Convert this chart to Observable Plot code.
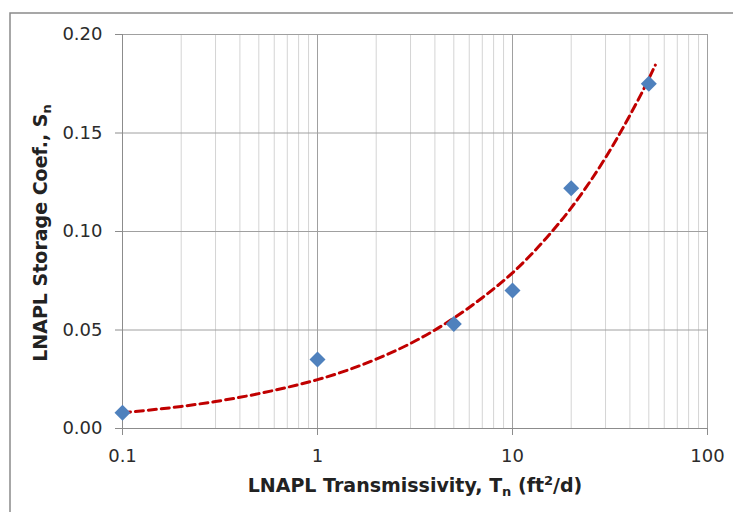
<!DOCTYPE html>
<html>
<head>
<meta charset="utf-8">
<script src="https://cdn.jsdelivr.net/npm/d3@7"></script>
<script src="https://cdn.jsdelivr.net/npm/@observablehq/plot@0.6"></script>
<style>
  html, body { margin: 0; padding: 0; background: #fff; }
  #chart { width: 733px; height: 512px; overflow: hidden; }
</style>
</head>
<body>
<div id="chart"></div>
<script>
// Measured data points (LNAPL transmissivity, storage coefficient)
const transmissivity = [0.1, 1, 5, 10, 20, 50];
const storageCoef = [0.008, 0.035, 0.053, 0.070, 0.122, 0.175];

// Dashed trend line
const trendT = [0.1, 0.2, 0.3, 0.5, 0.7, 1, 2, 3, 5, 7, 10, 15, 20, 30, 40, 50, 54];
const trendS = [0.0080, 0.0112, 0.0137, 0.0177, 0.0209, 0.0248, 0.0352, 0.0432, 0.0560, 0.0664, 0.0790, 0.0970, 0.1120, 0.1375, 0.1590, 0.1775, 0.1845];

// Axis ticks
const xTicks = [0.1, 1, 10, 100];
const xTickLabels = ["0.1", "1", "10", "100"];
const yTicks = [0, 0.05, 0.10, 0.15, 0.20];
const yTickLabels = ["0.00", "0.05", "0.10", "0.15", "0.20"];
const minorMultipliers = [2, 3, 4, 5, 6, 7, 8, 9];
const decades = [0.1, 1, 10];

const xMinor = decades.flatMap(d => minorMultipliers.map(m => +(d * m).toPrecision(3)));
const points = transmissivity.map((t, i) => ({t, s: storageCoef[i]}));
const trend = trendT.map((t, i) => ({t, s: trendS[i]}));

const chart = Plot.plot({
  width: 733,
  height: 512,
  marginLeft: 122,
  marginRight: 26,
  marginTop: 34,
  marginBottom: 84,
  style: {fontFamily: "'DejaVu Sans', Verdana, sans-serif", fontSize: "18px", background: "#fff"},
  x: {type: "log", domain: [0.1, 100]},
  y: {domain: [0, 0.2]},
  marks: [
    Plot.ruleX(xMinor, {stroke: "#d4d4d4", strokeWidth: 1}),
    Plot.ruleX([1, 10, 100], {stroke: "#a0a0a0", strokeWidth: 1}),
    Plot.ruleY(yTicks.slice(1), {stroke: "#a0a0a0", strokeWidth: 1}),
    Plot.ruleX([0.1], {stroke: "#8c8c8c", strokeWidth: 1}),
    Plot.ruleY([0], {stroke: "#8c8c8c", strokeWidth: 1}),
    Plot.axisX({ticks: xTicks, tickFormat: (d, i) => xTickLabels[xTicks.indexOf(d)], tickSize: 7, tickPadding: 14,
      label: null, stroke: "#8c8c8c", fill: "#2b2b2b", fontSize: 18}),
    Plot.axisY({ticks: yTicks, tickFormat: d => yTickLabels[yTicks.indexOf(d)], tickSize: 7, tickPadding: 13,
      label: null, stroke: "#8c8c8c", fill: "#2b2b2b", fontSize: 18}),
    Plot.line(trend, {x: "t", y: "s", stroke: "#C00000", strokeWidth: 3, strokeDasharray: "8,5", curve: "monotone-x"}),
    Plot.dot(points, {x: "t", y: "s", symbol: "diamond2", r: 7.2, fill: "#4F81BD", stroke: "none"})
  ]
});

document.getElementById("chart").appendChild(chart);

// Outer chart-area frame and axis titles with subscripts
const svg = d3.select(chart);
svg.insert("rect", ":first-child")
  .attr("x", 10).attr("y", 13).attr("width", 760).attr("height", 560)
  .attr("fill", "#fff").attr("stroke", "#8a8a8a").attr("stroke-width", 1.5);

const xt = svg.append("text")
  .attr("x", 415).attr("y", 492)
  .attr("text-anchor", "middle")
  .attr("font-weight", "bold").attr("font-size", 19).attr("fill", "#222");
xt.append("tspan").text("LNAPL Transmissivity, T");
xt.append("tspan").attr("font-size", 13).attr("dy", 4).text("n");
xt.append("tspan").attr("dy", -4).text(" (ft");
xt.append("tspan").attr("font-size", 13).attr("dy", -7).text("2");
xt.append("tspan").attr("dy", 7).text("/d)");

const yt = svg.append("text")
  .attr("transform", "translate(47,233) rotate(-90)")
  .attr("text-anchor", "middle")
  .attr("font-weight", "bold").attr("font-size", 19).attr("fill", "#222");
yt.append("tspan").text("LNAPL Storage Coef., S");
yt.append("tspan").attr("font-size", 13).attr("dy", 4).text("n");
</script>
</body>
</html>
